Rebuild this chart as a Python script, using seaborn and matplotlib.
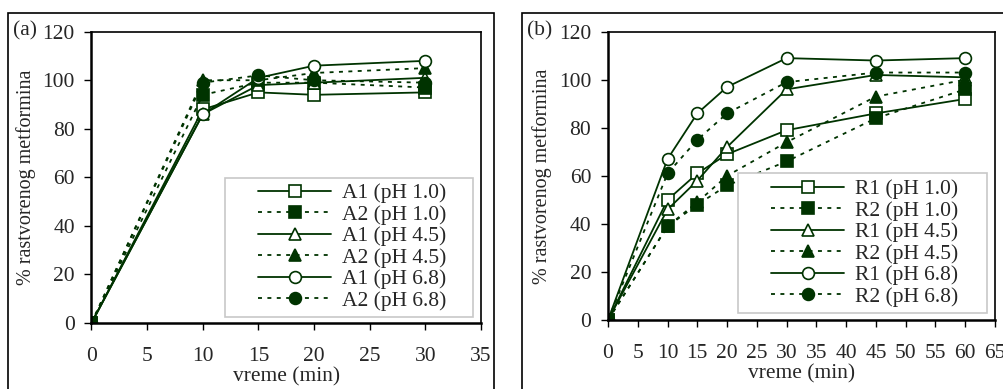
import numpy as np
import pandas as pd
import seaborn as sns
import matplotlib.pyplot as plt
from matplotlib.patches import Rectangle

# Data
time_a = [0, 10, 15, 20, 30]
a1_ph10 = [0, 88, 95, 94, 95]
a2_ph10 = [0, 94, 99, 99, 97]
a1_ph45 = [0, 86, 98, 99, 101]
a2_ph45 = [0, 100, 100, 103, 105]
a1_ph68 = [0, 86, 101, 106, 108]
a2_ph68 = [0, 99, 102, 100, 99]

time_b = [0, 10, 15, 20, 30, 45, 60]
r1_ph10 = [0, 50, 61, 69, 79, 86, 92]
r2_ph10 = [0, 39, 48, 56, 66, 84, 96]
r1_ph45 = [0, 46, 58, 72, 96, 102, 101]
r2_ph45 = [0, 39, 49, 60, 74, 93, 100]
r1_ph68 = [0, 67, 86, 97, 109, 108, 109]
r2_ph68 = [0, 61, 75, 86, 99, 103, 103]

green = '#003300'
sns.set_style('ticks')
plt.rcParams['font.family'] = ['Liberation Serif', 'DejaVu Serif']

fig = plt.figure(figsize=(10.04, 3.89), dpi=100)
W, H = 1004, 389
FS = 15.5

def px_axes(x0, x1, y0, y1):
    return fig.add_axes([x0 / W, 1 - y1 / H, (x1 - x0) / W, (y1 - y0) / H])

def px_rect(x0, x1, y0, y1, **kw):
    r = Rectangle((x0 / W, 1 - y1 / H), (x1 - x0) / W, (y1 - y0) / H,
                  transform=fig.transFigure, **kw)
    return r

ax_a = px_axes(91.5, 481, 31.7, 323)
ax_b = px_axes(608, 995, 31.7, 320)

# outer boxes
fig.patches.append(px_rect(8, 494, 12.7, 400, fill=False, edgecolor='black', linewidth=1.2))
fig.patches.append(px_rect(522, 1010, 12.7, 400, fill=False, edgecolor='black', linewidth=1.2))

dot = (0, (2.2, 3))
styles = [('s', 'white', '-'), ('s', green, dot),
          ('^', 'white', '-'), ('^', green, dot),
          ('o', 'white', '-'), ('o', green, dot)]

def draw(ax, t, series, names, legend_box, legend_anchor):
    for (mk, fc, ls), vals, name in zip(styles, series, names):
        df = pd.DataFrame({'t': t, 'v': vals})
        sns.lineplot(data=df, x='t', y='v', ax=ax, color=green, linestyle=ls, linewidth=1.3,
                     marker=mk, markersize=8.5, markerfacecolor=fc,
                     markeredgecolor=green, markeredgewidth=1.2, label=name)
    ax.set_ylim(0, 120)
    ax.set_yticks(range(0, 121, 20))
    ax.set_ylabel('% rastvorenog metformina', fontsize=14.5, labelpad=5)
    ax.set_xlabel('vreme (min)', fontsize=FS, labelpad=1)
    ax.tick_params(labelsize=FS, direction='out', length=5, width=1, color='black')
    ax.tick_params(axis='x', pad=12)
    ax.tick_params(axis='y', pad=7)
    for s in ax.spines.values():
        s.set_color('black')
        s.set_linewidth(1.2)
    ax.spines['left'].set_linewidth(1.8)
    ax.spines['bottom'].set_linewidth(1.8)
    box = px_rect(*legend_box, facecolor='white', edgecolor='#c8c8c8', linewidth=1.2,
                  zorder=4, clip_on=False)
    ax.add_artist(box)
    leg = ax.legend(loc='upper left', bbox_to_anchor=legend_anchor, bbox_transform=fig.transFigure,
                    fontsize=FS, handlelength=3.4, numpoints=1, frameon=False,
                    labelspacing=0.07, borderpad=0, borderaxespad=0, handletextpad=0.5)
    leg.set_zorder(5)

draw(ax_a, time_a, [a1_ph10, a2_ph10, a1_ph45, a2_ph45, a1_ph68, a2_ph68],
     ['A1 (pH 1.0)', 'A2 (pH 1.0)', 'A1 (pH 4.5)', 'A2 (pH 4.5)', 'A1 (pH 6.8)', 'A2 (pH 6.8)'],
     (225, 473, 178, 317), (258 / W, 1 - 183 / H))
ax_a.set_xlim(0, 35)
ax_a.set_xticks(range(0, 36, 5))

draw(ax_b, time_b, [r1_ph10, r2_ph10, r1_ph45, r2_ph45, r1_ph68, r2_ph68],
     ['R1 (pH 1.0)', 'R2 (pH 1.0)', 'R1 (pH 4.5)', 'R2 (pH 4.5)', 'R1 (pH 6.8)', 'R2 (pH 6.8)'],
     (738, 987, 173, 313), (771 / W, 1 - 179 / H))
ax_b.set_xlim(0, 65)
ax_b.set_xticks(range(0, 66, 5))

fig.text(13 / W, 1 - 31 / H, '(a)', fontsize=FS, va='center', ha='left')
fig.text(527 / W, 1 - 31 / H, '(b)', fontsize=FS, va='center', ha='left')

fig.savefig('out.png', dpi=100)
